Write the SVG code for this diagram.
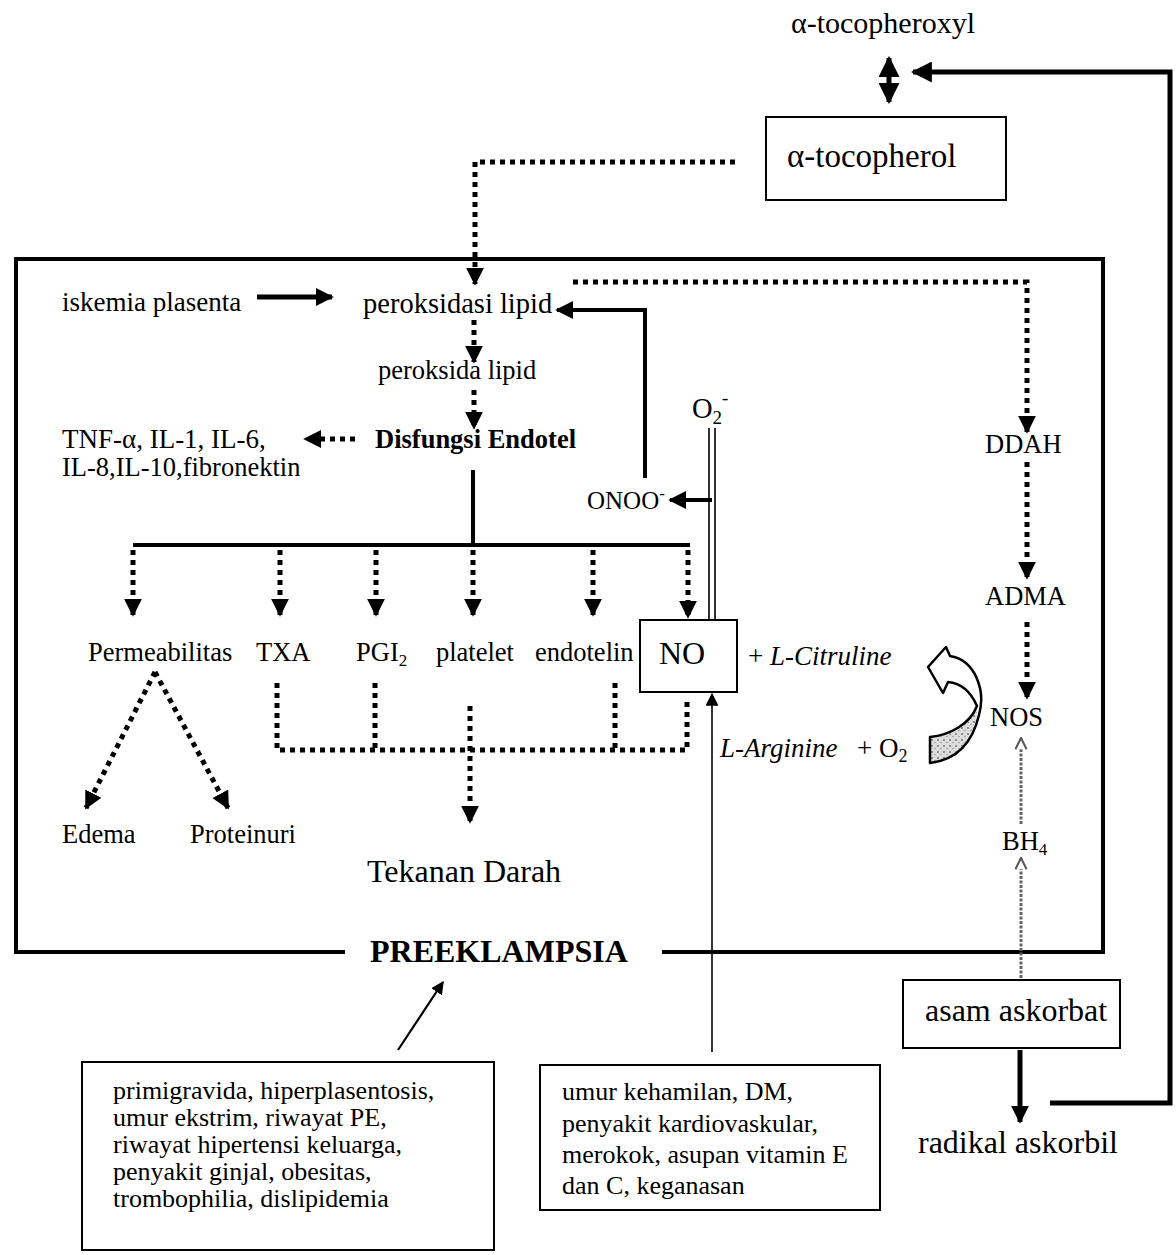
<svg xmlns="http://www.w3.org/2000/svg" width="1176" height="1255" viewBox="0 0 1176 1255">
<style>
text{font-family:"Liberation Serif","Times New Roman",serif;fill:#000}
.t26{font-size:26.5px}
.t27{font-size:27px}
.t28{font-size:28.5px}
.t32{font-size:32px}
.r{font-size:26px}
.b{font-weight:bold}
.i{font-style:italic}
.dot{fill:none;stroke:#000;stroke-width:5;stroke-dasharray:5 5}
.thick{fill:none;stroke:#000;stroke-width:5}
.med{fill:none;stroke:#000;stroke-width:4}
.thin{fill:none;stroke:#000;stroke-width:1.6}
.box{fill:#fff;stroke:#000;stroke-width:2}
</style>
<defs>
<marker id="ah" viewBox="0 0 10 10" refX="9" refY="5" markerUnits="userSpaceOnUse" markerWidth="18" markerHeight="18" orient="auto"><path d="M0,0 L10,5 L0,10 z" fill="#000"/></marker>
<marker id="ahb" viewBox="0 0 10 10" refX="9" refY="5" markerUnits="userSpaceOnUse" markerWidth="21" markerHeight="21" orient="auto"><path d="M0,0 L10,5 L0,10 z" fill="#000"/></marker>
<marker id="ahb2" viewBox="0 0 10 10" refX="1" refY="5" markerUnits="userSpaceOnUse" markerWidth="21" markerHeight="21" orient="auto"><path d="M10,0 L0,5 L10,10 z" fill="#000"/></marker>
<marker id="ahs" viewBox="0 0 10 10" refX="9" refY="5" markerUnits="userSpaceOnUse" markerWidth="13" markerHeight="13" orient="auto"><path d="M0,0 L10,5 L0,10 z" fill="#000"/></marker>
<marker id="ahopen" viewBox="0 0 10 10" refX="9" refY="5" markerUnits="userSpaceOnUse" markerWidth="14" markerHeight="14" orient="auto"><path d="M1,1 L9,5 L1,9" fill="#fff" stroke="#555" stroke-width="1.4"/></marker>
<pattern id="speck" width="6" height="6" patternUnits="userSpaceOnUse"><rect width="6" height="6" fill="#ddd"/><circle cx="2" cy="2" r="1" fill="#777"/><circle cx="5" cy="4.5" r="0.8" fill="#999"/></pattern>
</defs>
<rect width="1176" height="1255" fill="#fff"/>

<g id="frame">
<path d="M345,952 H16 V259 H1103 V952 H662" fill="none" stroke="#000" stroke-width="4"/>
</g>

<g id="connectors">
<path d="M889,58 V102" class="thick" marker-start="url(#ahb2)" marker-end="url(#ahb)"/>
<path d="M1050,1103 H1170 V72 H913" class="thick" marker-end="url(#ahb)"/>
<path d="M735,162 H475 V284" class="dot" marker-end="url(#ah)"/>
<path d="M257,297 H332" class="thick" marker-end="url(#ah)"/>
<path d="M474,320 V362" class="dot" marker-end="url(#ah)"/>
<path d="M474,390 V428" class="dot" marker-end="url(#ah)"/>
<path d="M355,439 H305" class="dot" marker-end="url(#ah)"/>
<path d="M645,478 V310 H557" class="med" marker-end="url(#ah)"/>
<path d="M573,282 H1027 V432" class="dot" marker-end="url(#ah)"/>
<path d="M1027,462 V578" class="dot" marker-end="url(#ah)"/>
<path d="M1027,622 V698" class="dot" marker-end="url(#ah)"/>
<path d="M473,470 V545" class="med"/>
<path d="M133,545 H690" class="med"/>
<path d="M133,550 V615" class="dot" marker-end="url(#ah)"/>
<path d="M280,550 V615" class="dot" marker-end="url(#ah)"/>
<path d="M376,550 V615" class="dot" marker-end="url(#ah)"/>
<path d="M473,550 V615" class="dot" marker-end="url(#ah)"/>
<path d="M593,550 V615" class="dot" marker-end="url(#ah)"/>
<path d="M688,550 V617" class="dot" marker-end="url(#ah)"/>
<path d="M709,428 V619 M715,428 V619" class="thin" stroke-width="1.8"/>
<path d="M712,500 H670" class="med" marker-end="url(#ah)"/>
<path d="M155,672 L86,808" class="dot" marker-end="url(#ah)"/>
<path d="M155,672 L228,808" class="dot" marker-end="url(#ah)"/>
<path d="M277,683 V750 H687 V700" class="dot"/>
<path d="M375,683 V750" class="dot"/>
<path d="M615,683 V750" class="dot"/>
<path d="M470,706 V822" class="dot" marker-end="url(#ah)"/>
<path d="M712,1052 V694" class="thin" marker-end="url(#ahs)"/>
<path d="M398,1050 L443,982" fill="none" stroke="#000" stroke-width="2.2" marker-end="url(#ahs)"/>
<path d="M1020,1050 V1122" class="thick" marker-end="url(#ah)"/>
<path d="M1021,824 V738" fill="none" stroke="#666" stroke-width="3" stroke-dasharray="3 1.5" marker-end="url(#ahopen)"/>
<path d="M1021,978 V858" fill="none" stroke="#666" stroke-width="3" stroke-dasharray="3 1.5" marker-end="url(#ahopen)"/>
<path d="M930,737 C950,735 970,724 977,706 C978,730 966,755 930,763 Z" fill="url(#speck)"/>
<path d="M930,737 C950,735 970,724 977,706 C970,690 960,683 948,682 L943,693 L928,667 L946,647 L950,656 C975,660 986,690 979,715 C972,745 955,760 930,763 Z" fill="none" stroke="#000" stroke-width="2.5" stroke-linejoin="round"/>
</g>

<g id="n-tocopheroxyl"><text font-size="30" x="791" y="33">α-tocopheroxyl</text></g>
<g id="n-tocopherol"><rect class="box" x="766" y="117" width="240" height="83"/><text font-size="33" x="787" y="167">α-tocopherol</text></g>
<g id="n-iskemia"><text class="t27" x="62" y="311">iskemia plasenta</text></g>
<g id="n-peroksidasi"><text class="t28" x="363" y="313">peroksidasi lipid</text></g>
<g id="n-peroksida"><text class="t26" x="378" y="379">peroksida lipid</text></g>
<g id="n-disfungsi"><text class="t26 b" x="375" y="448">Disfungsi Endotel</text></g>
<g id="n-tnf"><text class="t27" x="62" y="448">TNF-α, IL-1, IL-6,</text><text class="t26" x="62" y="476">IL-8,IL-10,fibronektin</text></g>
<g id="n-o2"><text class="t28" x="692" y="418">O<tspan font-size="19" dy="6">2</tspan><tspan font-size="19" dy="-20">-</tspan></text></g>
<g id="n-onoo"><text font-size="25" x="587" y="509">ONOO<tspan font-size="17" dy="-10">-</tspan></text></g>
<g id="n-permeabilitas"><text class="t26" x="88" y="661">Permeabilitas</text></g>
<g id="n-txa"><text class="t26" x="256" y="661">TXA</text></g>
<g id="n-pgi2"><text class="t26" x="356" y="661">PGI<tspan font-size="17" dy="5">2</tspan></text></g>
<g id="n-platelet"><text class="t26" x="436" y="661">platelet</text></g>
<g id="n-endotelin"><text class="t26" x="535" y="661">endotelin</text></g>
<g id="n-no"><rect class="box" x="640" y="620" width="97" height="72"/><text class="t32" x="659" y="664">NO</text></g>
<g id="n-citruline"><text class="t27" x="748" y="665">+ <tspan class="i">L-Citruline</tspan></text></g>
<g id="n-arginine"><text class="t27 i" x="720" y="757">L-Arginine</text><text class="t27" x="857" y="757">+ O<tspan font-size="18" dy="5">2</tspan></text></g>
<g id="n-ddah"><text class="t26" x="985" y="453">DDAH</text></g>
<g id="n-adma"><text class="t26" x="985" y="605">ADMA</text></g>
<g id="n-nos"><text class="t26" x="990" y="726">NOS</text></g>
<g id="n-bh4"><text class="t26" x="1002" y="850">BH<tspan font-size="17" dy="5">4</tspan></text></g>
<g id="n-edema"><text class="t26" x="62" y="843">Edema</text></g>
<g id="n-proteinuri"><text class="t26" x="190" y="843">Proteinuri</text></g>
<g id="n-tekanan"><text class="t32" x="367" y="882">Tekanan Darah</text></g>
<g id="n-preeklampsia"><text class="t32 b" x="370" y="962">PREEKLAMPSIA</text></g>
<g id="n-askorbat"><rect class="box" x="903" y="980" width="217" height="68"/><text class="t32" x="925" y="1021">asam askorbat</text></g>
<g id="n-radikal"><text class="t32" x="918" y="1153">radikal askorbil</text></g>
<g id="n-risk1"><rect class="box" x="82" y="1062" width="412" height="188"/>
<text class="r" x="113" y="1099">primigravida, hiperplasentosis,</text>
<text class="r" x="113" y="1126">umur ekstrim, riwayat PE,</text>
<text class="r" x="113" y="1153">riwayat hipertensi keluarga,</text>
<text class="r" x="113" y="1180">penyakit ginjal, obesitas,</text>
<text class="r" x="113" y="1207">trombophilia, dislipidemia</text></g>
<g id="n-risk2"><rect class="box" x="540" y="1065" width="340" height="145"/>
<text class="r" x="562" y="1100">umur kehamilan, DM,</text>
<text class="r" x="562" y="1132">penyakit kardiovaskular,</text>
<text class="r" x="562" y="1163">merokok, asupan vitamin E</text>
<text class="r" x="562" y="1194">dan C, keganasan</text></g>
</svg>
